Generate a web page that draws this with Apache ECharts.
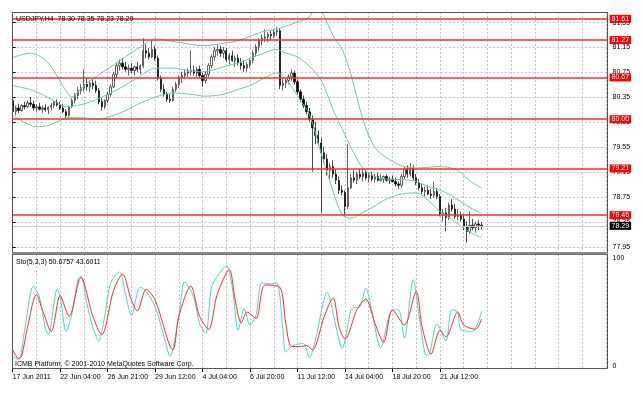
<!DOCTYPE html>
<html><head><meta charset="utf-8">
<script src="https://cdn.jsdelivr.net/npm/echarts@6/dist/echarts.min.js"></script>
<style>html,body{margin:0;padding:0;background:#fff}#c{width:643px;height:396px}</style>
</head><body><div id="c"></div>
<script>
// ---- data ----
const open = [
80.30,80.12,80.18,80.14,80.22,80.20,80.26,80.24,80.18,80.20,
80.16,80.18,80.15,80.19,80.22,80.27,80.23,80.18,80.12,80.06,
80.20,80.30,80.38,80.46,80.50,80.56,80.52,80.58,80.54,80.46,
80.28,80.20,80.30,80.40,80.52,80.72,80.86,80.90,80.84,80.80,
80.82,80.78,80.84,80.80,80.86,81.10,81.06,81.00,81.12,80.98,
80.66,80.48,80.40,80.32,80.30,80.48,80.56,80.66,80.70,80.74,
80.76,80.78,80.74,80.80,80.70,80.62,80.72,80.86,81.00,81.10,
81.12,81.06,81.10,80.96,81.02,80.94,80.98,80.90,80.86,80.82,
80.88,80.94,81.06,81.16,81.26,81.30,81.32,81.36,81.34,81.40,
81.42,80.54,80.58,80.62,80.68,80.74,80.60,80.44,80.32,80.22,
80.12,80.00,79.86,79.74,79.62,79.46,79.36,79.18,79.24,79.12,
79.02,78.86,78.83,78.60,78.90,79.06,79.02,79.12,79.08,79.14,
79.06,79.10,79.04,79.08,79.02,79.04,79.08,79.02,79.04,79.00,
78.96,78.94,79.08,79.20,79.12,79.22,79.06,78.98,78.90,78.84,
78.86,78.80,78.78,78.84,78.76,78.48,78.50,78.42,78.62,78.56,
78.44,78.46,78.40,78.28,78.20,78.30,78.26,78.32,78.30];
const high = [
80.36,80.22,80.25,80.24,80.28,80.30,80.36,80.30,80.24,80.26,
80.22,80.24,80.21,80.26,80.30,80.32,80.28,80.25,80.16,80.22,
80.34,80.42,80.52,80.56,80.80,80.66,80.62,80.64,80.62,80.50,
80.34,80.32,80.44,80.56,80.76,80.90,80.96,80.98,80.92,80.88,
80.90,80.86,80.92,80.88,81.30,81.20,81.14,81.26,81.18,81.02,
80.70,80.56,80.44,80.40,80.52,80.60,80.70,80.76,80.80,80.82,
81.10,80.86,80.84,80.86,80.74,80.76,80.90,81.04,81.16,81.20,
81.18,81.16,81.14,81.06,81.10,81.02,81.04,80.98,80.94,80.92,
80.98,81.10,81.20,81.30,81.36,81.44,81.40,81.42,81.44,81.48,
81.46,80.64,80.66,80.72,80.80,80.78,80.64,80.48,80.38,80.28,
80.18,80.06,79.96,79.82,79.70,79.56,79.44,79.30,79.34,79.20,
79.08,78.94,78.86,79.60,79.12,79.18,79.16,79.20,79.22,79.20,
79.14,79.16,79.12,79.14,79.12,79.10,79.12,79.08,79.10,79.06,
79.00,79.12,79.24,79.26,79.30,79.26,79.12,79.04,78.96,78.92,
78.94,78.88,79.00,78.90,78.80,78.56,78.58,78.66,78.72,78.64,
78.56,78.52,78.48,78.36,78.52,78.40,78.36,78.38,78.35];
const low = [
80.08,80.06,80.10,80.12,80.16,80.18,80.20,80.14,80.12,80.14,
80.10,80.12,80.08,80.14,80.18,80.20,80.15,80.10,80.02,80.04,
80.18,80.26,80.32,80.40,80.44,80.46,80.44,80.48,80.42,80.24,
80.14,80.16,80.26,80.36,80.50,80.66,80.78,80.80,80.76,80.70,
80.74,80.70,80.76,80.72,80.82,80.98,80.96,80.98,80.94,80.62,
80.44,80.36,80.28,80.26,80.28,80.44,80.50,80.58,80.64,80.68,
80.70,80.70,80.68,80.66,80.52,80.58,80.68,80.82,80.94,81.02,
81.00,80.98,80.92,80.88,80.92,80.84,80.86,80.80,80.76,80.76,
80.82,80.90,81.00,81.10,81.18,81.24,81.24,81.28,81.30,81.34,
80.48,80.46,80.50,80.56,80.62,80.56,80.40,80.28,80.18,80.08,
79.96,79.16,79.60,79.58,78.50,79.30,79.10,79.04,79.06,78.96,
78.80,78.78,78.46,78.56,78.88,78.98,78.96,79.04,79.00,79.02,
78.98,79.00,78.98,79.00,79.00,78.98,79.00,78.96,78.98,78.92,
78.88,78.90,79.04,79.06,79.08,79.02,78.94,78.86,78.80,78.76,
78.78,78.72,78.74,78.72,78.44,78.36,78.20,78.38,78.52,78.40,
78.38,78.36,78.22,78.02,78.16,78.22,78.18,78.22,78.23];
const close = [
80.12,80.18,80.14,80.22,80.20,80.26,80.24,80.18,80.20,80.16,
80.18,80.15,80.19,80.22,80.27,80.23,80.18,80.12,80.06,80.20,
80.30,80.38,80.46,80.50,80.56,80.52,80.58,80.54,80.46,80.28,
80.20,80.30,80.40,80.52,80.72,80.86,80.90,80.84,80.80,80.82,
80.78,80.84,80.80,80.86,81.10,81.06,81.00,81.12,80.98,80.66,
80.48,80.40,80.32,80.30,80.48,80.56,80.66,80.70,80.74,80.76,
80.78,80.74,80.80,80.70,80.62,80.72,80.86,81.00,81.10,81.12,
81.06,81.10,80.96,81.02,80.94,80.98,80.90,80.86,80.82,80.88,
80.94,81.06,81.16,81.26,81.30,81.32,81.36,81.34,81.40,81.42,
80.54,80.58,80.62,80.68,80.74,80.60,80.44,80.32,80.22,80.12,
80.00,79.86,79.74,79.62,79.46,79.36,79.18,79.24,79.12,79.02,
78.86,78.83,78.60,78.90,79.06,79.02,79.12,79.08,79.14,79.06,
79.10,79.04,79.08,79.02,79.04,79.08,79.02,79.04,79.00,78.96,
78.94,79.08,79.20,79.12,79.22,79.06,78.98,78.90,78.84,78.86,
78.80,78.78,78.84,78.76,78.48,78.50,78.42,78.62,78.56,78.44,
78.46,78.40,78.28,78.20,78.30,78.26,78.32,78.30,78.29];

// Bollinger bands, read as [bar, price]
const bandUpper = [[0,80.99],[6,81.06],[11,80.95],[14,80.77],[18,80.45],[20,80.36],[22,80.44],[25,80.58],[28,80.68],[33,80.84],[38,81.00],[43,81.16],[48,81.29],[55,81.24],[64,81.18],[70,81.21],[76,81.26],[80,81.33],[84,81.40],[90,81.46],[96,81.56],[100,81.64],[102,81.82],[104,81.74],[108,81.34],[111,81.12],[114,80.72],[118,80.00],[122,79.55],[127,79.35],[132,79.24],[137,79.22],[144,79.24],[149,79.20],[152,79.10],[155,78.98],[158,78.90]];
const bandMiddle = [[0,80.54],[7,80.46],[13,80.32],[18,80.20],[25,80.26],[33,80.42],[37,80.52],[42,80.66],[48,80.82],[54,80.82],[59,80.78],[64,80.76],[71,80.84],[77,80.92],[84,81.05],[89,81.12],[92,81.06],[96,81.00],[100,80.85],[104,80.62],[108,80.15],[112,79.75],[115,79.45],[118,79.22],[122,79.08],[126,79.04],[132,79.03],[136,79.00],[140,78.92],[144,78.86],[147,78.80],[151,78.68],[155,78.56],[158,78.49]];
const bandLower = [[0,80.06],[4,79.95],[8,79.88],[12,79.90],[16,79.98],[19,80.03],[24,80.02],[29,80.00],[32,80.03],[35,80.08],[39,80.16],[43,80.26],[49,80.37],[54,80.42],[60,80.40],[65,80.37],[71,80.40],[76,80.48],[80,80.54],[84,80.64],[89,80.74],[91,80.70],[94,80.52],[97,80.30],[100,80.08],[104,79.45],[108,78.84],[111,78.47],[114,78.41],[117,78.48],[121,78.58],[126,78.72],[131,78.80],[136,78.82],[140,78.70],[144,78.52],[149,78.36],[153,78.22],[158,78.10]];

// Stochastic (5,3,3), read as [bar, value]
const stochK = [[0,9],[2,6],[4,33],[7,74],[9,64],[11,35],[12,29],[15,71],[16,64],[18,32],[20,49],[22,81],[23,83],[25,58],[27,36],[29,23],[31,46],[33,77],[36,87],[38,67],[40,47],[43,73],[45,69],[48,55],[51,27],[53,9],[56,46],[58,78],[61,64],[63,39],[65,30],[67,73],[69,83],[72,93],[74,73],[76,33],[78,53],[80,38],[82,47],[84,77],[87,76],[89,77],[91,36],[92,13],[94,18],[96,20],[98,21],[100,8],[102,24],[106,68],[109,36],[111,16],[114,52],[115,54],[117,55],[119,72],[121,52],[124,17],[128,52],[130,52],[132,26],[135,80],[137,46],[139,11],[140,10],[143,39],[146,23],[148,52],[150,50],[151,34],[155,32],[158,50.6757]];
const stochD = [[0,15],[2,7],[3,9],[5,36],[8,66],[10,52],[13,32],[16,65],[19,46],[23,82],[27,46],[30,29],[34,70],[37,85],[40,61],[42,51],[45,71],[48,61],[54,15],[56,46],[60,74],[63,46],[66,34],[69,67],[73,89],[75,61],[77,40],[79,50],[82,44],[85,75],[90,73],[92,40],[94,18],[97,18],[99,19],[101,15],[105,46],[108,63],[110,36],[112,25],[116,52],[119,62],[122,40],[125,22],[128,52],[132,38],[136,69],[138,36],[141,11],[144,33],[146,27],[150,50],[152,38],[156,34],[158,43.6011]];

const timeLabels = ['17 Jun 2011','22 Jun 04:00','26 Jun 21:00','29 Jun 12:00','4 Jul 04:00','6 Jul 20:00','11 Jul 12:00','14 Jul 04:00','18 Jul 20:00','21 Jul 12:00'];
const priceTicks = [77.95,78.35,78.75,79.15,79.55,79.95,80.35,80.75,81.15,81.55];
const levelLines = [81.61,81.27,80.67,80.00,79.21,78.46];
const lastPrice = 78.29;
const stochTicks = [0,100];
const headerText = 'USDJPY,H4  78.30 78.35 78.23 78.29';
const stochText = 'Sto(5,3,3) 50.6757 43.6011';
const copyrightText = 'ICMB Platform, \u00a9 2001-2010 MetaQuotes Software Corp.';

// ---- chart ----
const FONT = '"Liberation Sans", Arial, sans-serif';
const candleData = open.map((o, i) => [i, o, close[i], low[i], high[i]]);
const xTickPos = timeLabels.map((_, k) => k * 16);
const grid = { color: '#c4c4c4', type: [2, 2], width: 1 };
const xBase = { type: 'value', min: 0, max: 200.5, interval: 8,
  axisLine: { show: false }, axisTick: { show: false }, axisLabel: { show: false },
  splitLine: { show: true, lineStyle: grid } };

const marks = levelLines.map(v => ({
  yAxis: v,
  lineStyle: { color: '#ff2a2a', width: 1.5, type: 'solid' },
  label: { show: true, position: 'end', distance: 2, formatter: p => p.value.toFixed(2),
    color: '#fff', backgroundColor: '#ff0000', fontSize: 7, fontFamily: FONT, padding: [1, 2, 0, 2] }
}));
marks.push({
  yAxis: lastPrice,
  lineStyle: { color: '#c8c8c8', width: 1, type: 'solid' },
  label: { show: true, position: 'end', distance: 2, formatter: p => p.value.toFixed(2),
    color: '#fff', backgroundColor: '#000', fontSize: 7, fontFamily: FONT, padding: [1, 2, 0, 2] }
});

const bandStyle = { color: '#6ccf94', width: 1 };
const chart = echarts.init(document.getElementById('c'));
chart.setOption({
  animation: false,
  backgroundColor: '#ffffff',
  grid: [
    { left: 12.7, top: 12, width: 594.9, height: 240 },
    { left: 12.7, top: 254, width: 594.9, height: 115 }
  ],
  xAxis: [
    Object.assign({ gridIndex: 0 }, xBase),
    Object.assign({ gridIndex: 1 }, xBase),
    { type: 'value', gridIndex: 1, min: 0, max: 200.5, position: 'bottom',
      axisLine: { show: false }, splitLine: { show: false },
      axisTick: { show: true, customValues: xTickPos, length: 3, lineStyle: { color: '#000' } },
      axisLabel: { show: true, customValues: xTickPos, formatter: v => timeLabels[Math.round(v / 16)],
        align: 'left', fontSize: 7, fontFamily: FONT, color: '#000', margin: 5 } }
  ],
  yAxis: [
    { type: 'value', gridIndex: 0, position: 'right', min: 77.87, max: 81.72,
      axisLine: { show: false },
      axisTick: { show: true, customValues: priceTicks, length: 3, lineStyle: { color: '#000' } },
      axisLabel: { customValues: priceTicks, formatter: v => v.toFixed(2), fontSize: 7, fontFamily: FONT, color: '#000', margin: 5 },
      splitLine: { show: true, lineStyle: grid } },
    { type: 'value', gridIndex: 1, position: 'right', min: -2.8, max: 103.7,
      axisLine: { show: false }, axisTick: { show: false },
      axisLabel: { customValues: stochTicks, formatter: v => String(v), fontSize: 7, fontFamily: FONT, color: '#000', margin: 5 },
      splitLine: { show: false } }
  ],
  series: [
    { type: 'candlestick', xAxisIndex: 0, yAxisIndex: 0, data: candleData,
      encode: { x: 0, y: [1, 2, 3, 4] }, barWidth: 1.8, z: 2,
      itemStyle: { color: '#ffffff', color0: '#000000', borderColor: '#222222', borderColor0: '#000000', borderWidth: 0.7 },
      markLine: { silent: true, symbol: ['none', 'none'], animation: false, emphasis: { disabled: true }, data: marks } },
    { type: 'line', xAxisIndex: 0, yAxisIndex: 0, data: bandUpper, showSymbol: false, smooth: 0.3, lineStyle: bandStyle, z: 3 },
    { type: 'line', xAxisIndex: 0, yAxisIndex: 0, data: bandMiddle, showSymbol: false, smooth: 0.3, lineStyle: bandStyle, z: 3 },
    { type: 'line', xAxisIndex: 0, yAxisIndex: 0, data: bandLower, showSymbol: false, smooth: 0.3, lineStyle: bandStyle, z: 3 },
    { type: 'line', xAxisIndex: 1, yAxisIndex: 1, data: stochK, showSymbol: false, smooth: 0.3, lineStyle: { color: '#45d6c8', width: 1 }, z: 3 },
    { type: 'line', xAxisIndex: 1, yAxisIndex: 1, data: stochD, showSymbol: false, smooth: 0.3, lineStyle: { color: '#ff2a2a', width: 1 }, z: 4 }
  ],
  graphic: [
    { type: 'rect', silent: true, z: 50, shape: { x: 12.5, y: 12.5, width: 595, height: 240 }, style: { fill: 'none', stroke: '#555', lineWidth: 1 } },
    { type: 'rect', silent: true, z: 50, shape: { x: 12.5, y: 254.5, width: 595, height: 114 }, style: { fill: 'none', stroke: '#555', lineWidth: 1 } },
    { type: 'rect', silent: true, z: 50, shape: { x: 12, y: 252, width: 596, height: 2.5 }, style: { fill: '#8a8a8a' } },
    { type: 'text', silent: true, z: 60, x: 16, y: 19, style: { text: headerText, fill: '#000', fontSize: 7, fontFamily: FONT, verticalAlign: 'middle' } },
    { type: 'text', silent: true, z: 60, x: 16, y: 262, style: { text: stochText, fill: '#000', fontSize: 7, fontFamily: FONT, verticalAlign: 'middle' } },
    { type: 'text', silent: true, z: 60, x: 15, y: 364, style: { text: copyrightText, fill: '#000', fontSize: 7, fontFamily: FONT, verticalAlign: 'middle' } }
  ]
});
</script>
</body></html>
